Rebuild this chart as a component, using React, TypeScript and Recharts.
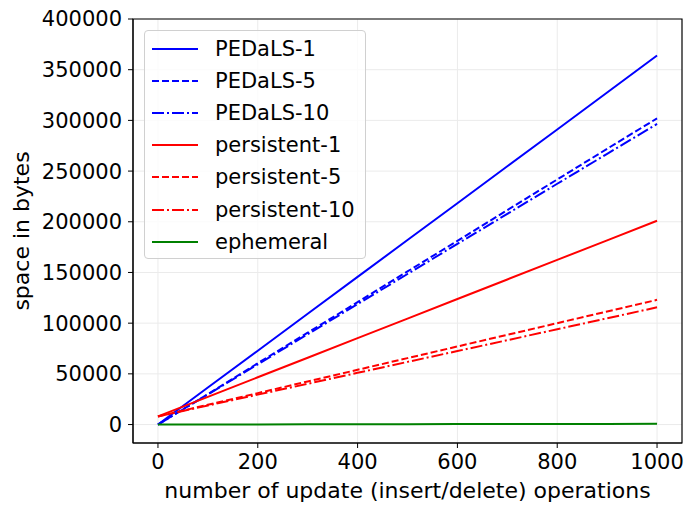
import React from 'react';
import { LineChart, Line, XAxis, YAxis, CartesianGrid, Legend, ReferenceArea, Label } from 'recharts';

const ops = [0, 100, 200, 300, 400, 500, 600, 700, 800, 900, 1000];
const pedals1 = [0, 36500, 72800, 109300, 145600, 182000, 218300, 254700, 291000, 327500, 364000];
const pedals5 = [0, 30000, 60500, 90600, 120800, 151000, 181200, 211500, 241700, 272000, 302000];
const pedals10 = [0, 29700, 59400, 89100, 118800, 148500, 178200, 207800, 237500, 267000, 296500];
const persistent1 = [8000, 27300, 46600, 65900, 85200, 104500, 123800, 143100, 162400, 181700, 201000];
const persistent5 = [8000, 19500, 31000, 42500, 54000, 65500, 77000, 88500, 100000, 111500, 123000];
const persistent10 = [8000, 18800, 29500, 40200, 51000, 61800, 72500, 83200, 94000, 104800, 115600];
const ephemeral = [0, 70, 140, 210, 280, 350, 420, 490, 560, 630, 700];

const xTicks = [0, 200, 400, 600, 800, 1000];
const yTicks = [0, 50000, 100000, 150000, 200000, 250000, 300000, 350000, 400000];

const data = ops.map((x, i) => ({
  x,
  pedals1: pedals1[i],
  pedals5: pedals5[i],
  pedals10: pedals10[i],
  persistent1: persistent1[i],
  persistent5: persistent5[i],
  persistent10: persistent10[i],
  ephemeral: ephemeral[i],
}));

const DASH = '7 3';
const DASHDOT = '12 3 2 3';

const series = [
  { key: 'pedals1', name: 'PEDaLS-1', color: '#0000ff', dash: undefined as string | undefined },
  { key: 'pedals5', name: 'PEDaLS-5', color: '#0000ff', dash: DASH },
  { key: 'pedals10', name: 'PEDaLS-10', color: '#0000ff', dash: DASHDOT },
  { key: 'persistent1', name: 'persistent-1', color: '#ff0000', dash: undefined },
  { key: 'persistent5', name: 'persistent-5', color: '#ff0000', dash: DASH },
  { key: 'persistent10', name: 'persistent-10', color: '#ff0000', dash: DASHDOT },
  { key: 'ephemeral', name: 'ephemeral', color: '#008000', dash: undefined },
];

const FONT = '"DejaVu Sans", sans-serif';

const renderLegend = () => (
  <div
    style={{
      position: 'absolute',
      left: 0,
      top: 0,
      width: 222,
      height: 229,
      border: '1px solid #d0d0d0',
      borderRadius: 4,
      background: 'rgba(255,255,255,0.8)',
      boxSizing: 'border-box',
      fontFamily: FONT,
      fontSize: 21,
      color: '#000',
    }}
  >
    {series.map((s, i) => (
      <div
        key={s.key}
        style={{ position: 'absolute', left: 7, top: 18 + i * 32.1 - 16, height: 32, display: 'flex', alignItems: 'center' }}
      >
        <svg width={48} height={10} style={{ display: 'block' }}>
          <line x1={0} y1={5} x2={46} y2={5} stroke={s.color} strokeWidth={2} strokeDasharray={s.dash} />
        </svg>
        <span style={{ marginLeft: 15, whiteSpace: 'nowrap', lineHeight: '32px' }}>{s.name}</span>
      </div>
    ))}
  </div>
);

export default function App() {
  return (
    <div style={{ position: 'absolute', left: 0, top: 0, background: '#fff' }}>
      <LineChart width={688} height={508} data={data} margin={{ top: 19, right: 6, left: 0, bottom: 0 }}>
        <CartesianGrid stroke="#ebebeb" strokeWidth={1} verticalValues={xTicks} horizontalValues={yTicks} />
        <XAxis
          dataKey="x"
          type="number"
          domain={[-50, 1050]}
          ticks={xTicks}
          allowDataOverflow
          height={65}
          tickSize={5}
          tickMargin={6}
          stroke="#000"
          tick={{ fontSize: 21, fill: '#000', fontFamily: FONT }}
          tickLine={{ stroke: '#000' }}
          axisLine={{ stroke: '#000' }}
        >
          <Label
            content={(props: any) => {
              const vb = props.viewBox;
              return (
                <text x={vb.x + vb.width / 2} y={vb.y + 55} textAnchor="middle" fontSize={22} fontFamily={FONT} fill="#000">
                  number of update (insert/delete) operations
                </text>
              );
            }}
          />
        </XAxis>
        <YAxis
          type="number"
          domain={[-18200, 400000]}
          ticks={yTicks}
          allowDataOverflow
          width={133}
          tickSize={5}
          tickMargin={6}
          stroke="#000"
          tick={{ fontSize: 21, fill: '#000', fontFamily: FONT }}
          tickLine={{ stroke: '#000' }}
          axisLine={{ stroke: '#000' }}
        >
          <Label
            content={(props: any) => {
              const vb = props.viewBox;
              const cx = vb.x + 29;
              const cy = vb.y + vb.height / 2;
              return (
                <text x={cx} y={cy} textAnchor="middle" fontSize={22} fontFamily={FONT} fill="#000" transform={`rotate(-90 ${cx} ${cy})`}>
                  space in bytes
                </text>
              );
            }}
          />
        </YAxis>
        <ReferenceArea x1={-50} x2={1050} y1={-18200} y2={400000} fill="none" stroke="#000" strokeWidth={1.2} ifOverflow="visible" />
        {series.map((s) => (
          <Line
            key={s.key}
            type="linear"
            dataKey={s.key}
            name={s.name}
            stroke={s.color}
            strokeWidth={2}
            strokeDasharray={s.dash}
            dot={false}
            activeDot={false}
            isAnimationActive={false}
          />
        ))}
        <Legend
          content={renderLegend}
          wrapperStyle={{ position: 'absolute', left: 144, top: 30, width: 0, height: 0, overflow: 'visible' }}
        />
      </LineChart>
    </div>
  );
}
